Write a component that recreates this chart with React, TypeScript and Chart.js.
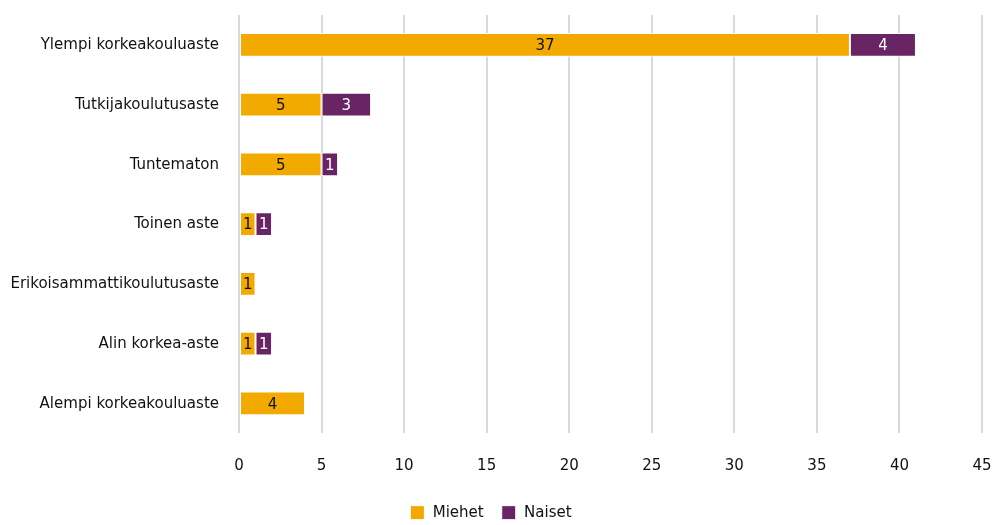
import React, { useEffect, useRef } from "react";
import { Chart, registerables } from "chart.js";

Chart.register(...registerables);

const categories = [
  "Ylempi korkeakouluaste",
  "Tutkijakoulutusaste",
  "Tuntematon",
  "Toinen aste",
  "Erikoisammattikoulutusaste",
  "Alin korkea-aste",
  "Alempi korkeakouluaste",
];
const miehet = [37, 5, 5, 1, 1, 1, 4];
const naiset = [4, 3, 1, 1, 0, 1, 0];
const seriesNames = ["Miehet", "Naiset"];

const FONT = "'DejaVu Sans Condensed', 'Liberation Sans Narrow', sans-serif";
const FS = 16.7;

const labelPlugin = {
  id: "barLabels",
  afterDatasetsDraw(chart: any) {
    const ctx = chart.ctx;
    ctx.save();
    ctx.font = `${FS}px ${FONT}`;
    ctx.textAlign = "center";
    ctx.textBaseline = "middle";
    chart.data.datasets.forEach((ds: any, di: number) => {
      const meta = chart.getDatasetMeta(di);
      meta.data.forEach((el: any, i: number) => {
        const v = ds.data[i];
        if (!v) return;
        const p = el.getProps(["x", "y", "base"], true);
        ctx.fillStyle = di === 0 ? "#111111" : "#ffffff";
        ctx.fillText(String(v), (p.x + p.base) / 2, p.y + 1);
      });
    });
    ctx.restore();
  },
};

export default function App() {
  const ref = useRef<HTMLCanvasElement>(null);
  useEffect(() => {
    document.body.style.margin = "0";
    const chart = new Chart(ref.current!, {
      type: "bar",
      data: {
        labels: categories,
        datasets: [
          {
            label: seriesNames[0],
            data: miehet,
            backgroundColor: "#F2A900",
            borderColor: "#ffffff",
            borderWidth: 1,
            borderSkipped: false,
            categoryPercentage: 0.8,
            barPercentage: 0.5,
          },
          {
            label: seriesNames[1],
            data: naiset,
            backgroundColor: "#692466",
            borderColor: "#ffffff",
            borderWidth: 1,
            borderSkipped: false,
            categoryPercentage: 0.8,
            barPercentage: 0.5,
          },
        ],
      },
      options: {
        indexAxis: "y",
        animation: false,
        responsive: false,
        maintainAspectRatio: false,
        layout: { padding: { top: 15, right: 13, left: 0, bottom: -6 } },
        scales: {
          x: {
            stacked: true,
            min: 0,
            max: 45,
            ticks: { stepSize: 5, color: "#111", font: { family: FONT, size: FS }, padding: 22 },
            grid: { color: "#d9d9d9", lineWidth: 2, drawTicks: false },
            border: { display: false },
            afterFit(scale: any) {
              scale.height -= 11;
              scale.paddingLeft = 0;
              scale.paddingRight = 0;
            },
          },
          y: {
            stacked: true,
            ticks: { color: "#111", font: { family: FONT, size: FS }, padding: 20 },
            grid: { display: false, drawTicks: false },
            border: { display: false },
            afterFit(scale: any) {
              scale.width = 239;
              scale.paddingTop = 0;
              scale.paddingBottom = 0;
            },
          },
        },
        plugins: {
          legend: {
            position: "bottom",
            labels: {
              boxWidth: 14,
              boxHeight: 14,
              color: "#111",
              font: { family: FONT, size: FS },
              padding: 18,
            },
          },
          tooltip: { enabled: false },
        },
      },
      plugins: [labelPlugin],
    });
    return () => chart.destroy();
  }, []);
  return (
    <div style={{ width: 995, height: 525 }}>
      <canvas ref={ref} width={995} height={525} style={{ display: "block" }} />
    </div>
  );
}
